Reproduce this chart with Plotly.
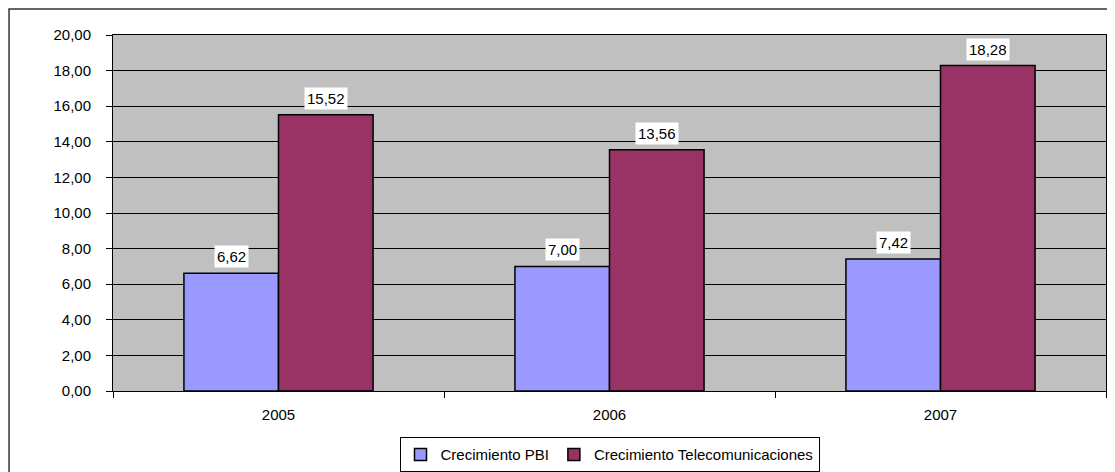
import plotly.graph_objs as go

years = ["2005", "2006", "2007"]
pbi = [6.62, 7.00, 7.42]
telecom = [15.52, 13.56, 18.28]
series_names = ["Crecimiento PBI", "Crecimiento Telecomunicaciones"]

FONT = "Liberation Sans, Arial, sans-serif"
bargap = 0.4286
bar_w = (1 - bargap) / 2

fig = go.Figure()
fig.add_trace(go.Bar(x=years, y=pbi, name=series_names[0],
                     marker=dict(color="#9999ff", line=dict(color="black", width=1.5))))
fig.add_trace(go.Bar(x=years, y=telecom, name=series_names[1],
                     marker=dict(color="#993366", line=dict(color="black", width=1.5))))

# data labels with white boxes
for i, (a, b) in enumerate(zip(pbi, telecom)):
    for val, off in ((a, -bar_w / 2), (b, bar_w / 2)):
        fig.add_annotation(x=i + off, y=val, xref="x", yref="y",
                           text=f"{val:.2f}".replace(".", ","),
                           showarrow=False, yanchor="bottom", yshift=5,
                           bgcolor="white", borderpad=2,
                           font=dict(family=FONT, size=15, color="black"))

# outer chart border (partly off-canvas)
fig.add_shape(type="rect", xref="paper", yref="paper",
              x0=-0.1047, x1=1.2, y0=-0.5, y1=1.073,
              line=dict(color="#333333", width=1.5), layer="below")

# page body has an 8px margin, so the figure is sized to the visible area
fig.update_layout(
    width=1107, height=464,
    margin=dict(l=105, r=9, t=27, b=81, autoexpand=False),
    paper_bgcolor="white", plot_bgcolor="#c0c0c0",
    barmode="group", bargap=bargap, bargroupgap=0,
    separators=",.",
    font=dict(family=FONT, size=15, color="black"),
    showlegend=True,
    legend=dict(orientation="h", x=0.5, xanchor="center",
                yref="container", y=0.075, yanchor="top",
                bordercolor="black", borderwidth=1, bgcolor="white",
                font=dict(family=FONT, size=15), itemwidth=30, tracegroupgap=0),
)
fig.update_yaxes(range=[0, 20], dtick=2, tickformat=".2f", showgrid=True,
                 gridcolor="black", gridwidth=1, ticks="outside", ticklen=6,
                 tickcolor="black", showline=True, linecolor="black", mirror=True,
                 zeroline=False, ticklabelstandoff=12)
fig.update_xaxes(type="category", ticks="outside", tickson="boundaries", ticklen=6,
                 tickcolor="black", showline=True, linecolor="black", mirror=True,
                 ticklabelstandoff=10)

fig.write_html("out.html")
